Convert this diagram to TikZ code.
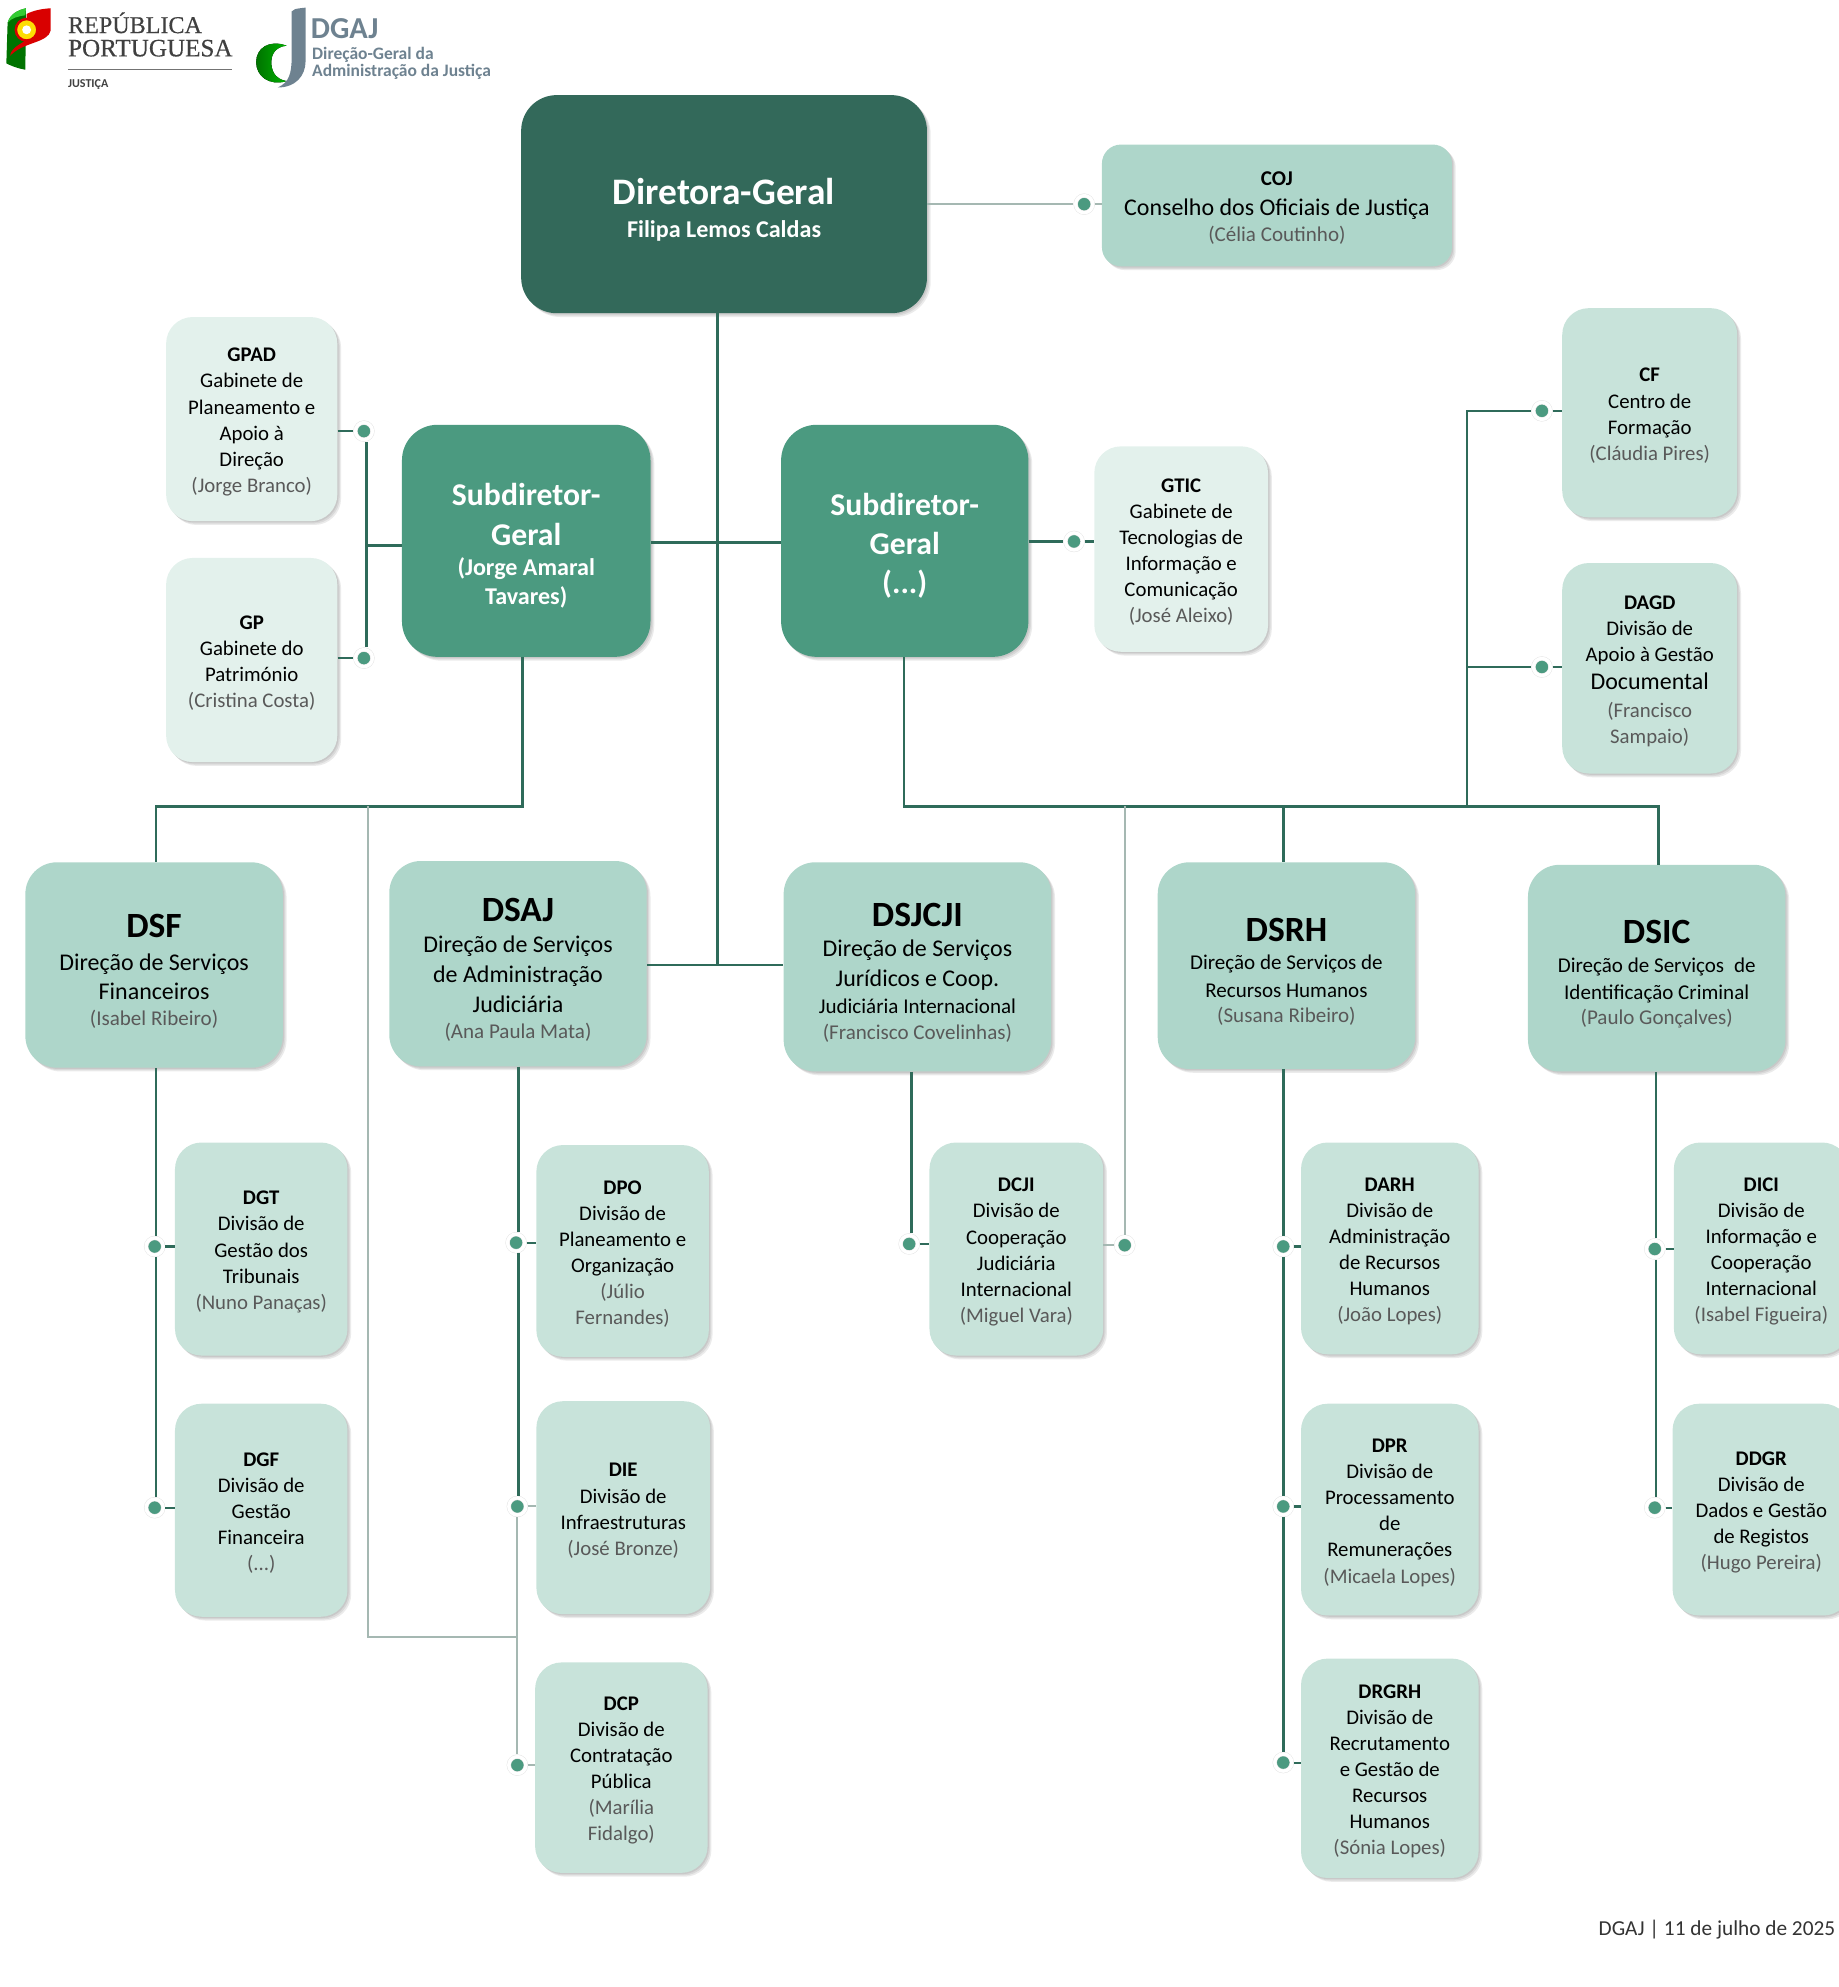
\documentclass[tikz,border=0pt]{standalone}
\usepackage{fontspec}
\setmainfont{Carlito}
\newfontfamily\logofont[FakeBold=0.4]{Liberation Serif}
\usetikzlibrary{shadows}

\definecolor{dirgreen}{HTML}{33695A}
\definecolor{subgreen}{HTML}{4B9A80}
\definecolor{dsgreen}{HTML}{AED6CA}
\definecolor{divgreen}{HTML}{C8E3DA}
\definecolor{cabgreen}{HTML}{E3F1EC}
\definecolor{linegreen}{HTML}{2F6B5A}
\definecolor{linegray}{HTML}{A5B8B2}
\definecolor{namegray}{HTML}{595959}
\definecolor{logogray}{HTML}{6E8290}

\newcommand{\acro}[1]{\rule{0pt}{15.5pt}\textbf{#1}}
\newcommand{\dstitle}[1]{\rule{0pt}{28pt}\fontsize{28}{31}\selectfont\bfseries #1}
\newcommand{\pname}[1]{\textcolor{namegray}{#1}}
\newcommand{\subtxt}{\fontsize{16.6}{20.6}\selectfont}

\tikzset{
    basebox/.style={align=center, inner sep=0pt, text=black,
        drop shadow={shadow xshift=1pt, shadow yshift=-1pt, fill=black, opacity=.08},
        drop shadow={shadow xshift=2pt, shadow yshift=-2pt, fill=black, opacity=.08},
        drop shadow={shadow xshift=3pt, shadow yshift=-3pt, fill=black, opacity=.08}},
    dirbox/.style={basebox, fill=dirgreen, text=white, rounded corners=28pt, font=\fontsize{29.5}{29}\selectfont},
    subbox/.style={basebox, fill=subgreen, text=white, rounded corners=28pt, font=\fontsize{25}{31}\selectfont\bfseries},
    dsbox/.style={basebox, fill=dsgreen, rounded corners=25pt, font=\fontsize{18.9}{23.5}\selectfont},
    divbox/.style={basebox, fill=divgreen, rounded corners=21pt, font=\fontsize{16.4}{20.6}\selectfont},
    cabbox/.style={divbox, fill=cabgreen},
    dotnode/.style={circle, fill=subgreen, draw=black!10, line width=.4pt, double=white, double distance=2.6pt,
        minimum size=13.5pt, inner sep=0pt, outer sep=1.7pt},
    darkline/.style={draw=linegreen, line width=2.1pt},
    thinline/.style={draw=linegreen, line width=1.7pt},
    grayline/.style={draw=linegray, line width=1.5pt},
}

\begin{document}
\begin{tikzpicture}[x=1pt,y=-1pt]

    \useasboundingbox (0,0) rectangle (1450,1567);

    % logos
    \fill[green!45!black] (6,18) .. controls (8,11) and (14,8) .. (20.5,6.5) -- (20,55) .. controls (14,54) and (9,52) .. (5,50) -- cycle;
    \fill[green!60!gray] (6,18) .. controls (8,11) and (14,8) .. (20.5,6.5) -- (20,12) .. controls (14,13) and (9,14) .. (6,18) -- cycle;
    \fill[red!85!black] (21,11) .. controls (27,8) and (33,7) .. (40,6.5) -- (40,24) .. controls (38,34) and (18,33) .. (8,44) .. controls (9,36) and (20,34) .. (21,30) -- cycle;
    \filldraw[fill=yellow!80!orange, draw=red!85!black, line width=2pt] (21,23.5) circle (8.5pt);
    \fill[white] (21,23.5) circle (3.5pt);
    \node[anchor=west, inner sep=0pt, text=black!75] (repTxt) at (53.5,18) {\logofont\fontsize{19}{20}\selectfont REPÚBLICA};
    \node[anchor=west, inner sep=0pt, text=black!75] (porTxt) at (53.5,38) {\logofont\fontsize{19.8}{20}\selectfont PORTUGUESA};
    \draw[black!55, line width=.8pt] (53.5,55) -- (183,55);
    \node[anchor=west, inner sep=0pt, text=black!75] (jusTxt) at (53.5,67) {\fontsize{9.5}{10}\selectfont\bfseries JUSTIÇA};

    \fill[left color=green!45!black, right color=green!70!black] (226,36) .. controls (212,31) and (202,38) .. (202,49) .. controls (202,60) and (212,68) .. (226,64) .. controls (216,62) and (214,55) .. (214,49) .. controls (214,43) and (217,37) .. (226,36) -- cycle;
    \fill[logogray] (230,9) .. controls (232,7) .. (241,6) -- (241,48) .. controls (241,60) and (233,69) .. (219,69) .. controls (228,65) and (230,58) .. (230,45) -- cycle;
    \node[anchor=west, inner sep=0pt, text=logogray] (dgajTxt) at (245,22.5) {\fontsize{24}{25}\selectfont\bfseries DGAJ};
    \node[anchor=west, inner sep=0pt, text=logogray, align=left, font=\fontsize{13.8}{13}\selectfont\bfseries] (dgajSub) at (246,50) {Direção-Geral da\\Administração da Justiça};

    % direction
    \node[dirbox, minimum width=320pt, minimum height=172pt] (Dir) at (571,161)
        {\rule{0pt}{30pt}\bfseries Diretora-Geral\\[-3pt]\fontsize{19}{22}\selectfont\bfseries Filipa Lemos Caldas};
    \node[dsbox, rounded corners=15pt, minimum width=276pt, minimum height=96pt] (COJ) at (1007,162)
        {\subtxt\acro{COJ}\\[-.5pt]Conselho dos Oficiais de Justiça\\[-2.5pt]\subtxt\pname{(Célia Coutinho)}};
    \node[subbox, minimum width=196pt, minimum height=183pt] (Sub1) at (415,426.5)
        {\rule{0pt}{25.5pt}Subdiretor-\\Geral\\[-7pt]\fontsize{19}{23}\selectfont (Jorge Amaral\\[-8pt]\fontsize{19}{23}\selectfont Tavares)};
    \node[subbox, minimum width=195pt, minimum height=183pt] (Sub2) at (713.5,426.5)
        {\rule{0pt}{25.5pt}Subdiretor-\\Geral\\(...)};

    % gabinetes
    \node[cabbox, minimum width=135pt, minimum height=161pt] (GPAD) at (198.5,330.5)
        {\acro{GPAD}\\Gabinete de\\Planeamento e\\Apoio à\\Direção\\\pname{(Jorge Branco)}};
    \node[cabbox, minimum width=135pt, minimum height=161pt] (GP) at (198.5,520.5)
        {\acro{GP}\\Gabinete do\\Património\\\pname{(Cristina Costa)}};
    \node[cabbox, minimum width=137pt, minimum height=162pt] (GTIC) at (931.5,433)
        {\acro{GTIC}\\Gabinete de\\Tecnologias de\\Informação e\\Comunicação\\\pname{(José Aleixo)}};
    \node[divbox, minimum width=138pt, minimum height=165pt] (CF) at (1301,325.5)
        {\acro{CF}\\Centro de\\Formação\\\pname{(Cláudia Pires)}};
    \node[divbox, minimum width=138pt, minimum height=166pt] (DAGD) at (1301,527)
        {\acro{DAGD}\\Divisão de\\Apoio à Gestão\\[1.4pt]\fontsize{18.9}{22}\selectfont Documental\\[1.4pt]\pname{(Francisco}\\\pname{Sampaio)}};

    % direcoes de servicos
    \node[dsbox, minimum width=203pt, minimum height=162pt] (DSF) at (121.5,761)
        {\dstitle{DSF}\\[2.5pt]Direção de Serviços\\Financeiros\\[-3.5pt]\subtxt\pname{(Isabel Ribeiro)}};
    \node[dsbox, minimum width=203pt, minimum height=162pt] (DSAJ) at (408.5,760)
        {\dstitle{DSAJ}\\[1.5pt]Direção de Serviços\\de Administração\\Judiciária\\[-2.5pt]\subtxt\pname{(Ana Paula Mata)}};
    \node[dsbox, minimum width=211pt, minimum height=165pt] (DSJCJI) at (723.5,762.5)
        {\dstitle{DSJCJI}\\[.5pt]Direção de Serviços\\Jurídicos e Coop.\\[-2.5pt]\subtxt Judiciária Internacional\\[-2.5pt]\subtxt\pname{(Francisco Covelinhas)}};
    \node[dsbox, minimum width=203pt, minimum height=163pt] (DSRH) at (1014.5,761.5)
        {\dstitle{DSRH}\\[-1.5pt]\subtxt Direção de Serviços de\\[-1.5pt]\subtxt Recursos Humanos\\[-3.5pt]\subtxt\pname{(Susana Ribeiro)}};
    \node[dsbox, minimum width=203pt, minimum height=163pt] (DSIC) at (1306.5,763.5)
        {\dstitle{DSIC}\\[-.5pt]\subtxt Direção de Serviços\hspace{4pt} de\\[-2.5pt]\subtxt Identificação Criminal\\[-3.5pt]\subtxt\pname{(Paulo Gonçalves)}};

    % divisoes
    \node[divbox, minimum width=136pt, minimum height=168pt] (DGT) at (206,985)
        {\acro{DGT}\\Divisão de\\Gestão dos\\Tribunais\\\pname{(Nuno Panaças)}};
    \node[divbox, minimum width=136pt, minimum height=168pt] (DGF) at (206,1191)
        {\acro{DGF}\\Divisão de\\Gestão\\Financeira\\\pname{(...)}};
    \node[divbox, minimum width=136pt, minimum height=167pt] (DPO) at (491,986.5)
        {\acro{DPO}\\Divisão de\\Planeamento e\\Organização\\\pname{(Júlio}\\\pname{Fernandes)}};
    \node[divbox, minimum width=137pt, minimum height=168pt] (DIE) at (491.5,1189)
        {\acro{DIE}\\Divisão de\\Infraestruturas\\\pname{(José Bronze)}};
    \node[divbox, minimum width=136pt, minimum height=166pt] (DCP) at (490,1394)
        {\acro{DCP}\\Divisão de\\Contratação\\Pública\\\pname{(Marília}\\\pname{Fidalgo)}};
    \node[divbox, minimum width=137pt, minimum height=168pt] (DCJI) at (801.5,985)
        {\acro{DCJI}\\Divisão de\\Cooperação\\Judiciária\\Internacional\\\pname{(Miguel Vara)}};
    \node[divbox, minimum width=140pt, minimum height=167pt] (DARH) at (1096,984.5)
        {\acro{DARH}\\Divisão de\\Administração\\de Recursos\\Humanos\\\pname{(João Lopes)}};
    \node[divbox, minimum width=140pt, minimum height=167pt] (DPR) at (1096,1190.5)
        {\acro{DPR}\\Divisão de\\Processamento\\de\\Remunerações\\\pname{(Micaela Lopes)}};
    \node[divbox, minimum width=140pt, minimum height=173pt] (DRGRH) at (1096,1394.5)
        {\acro{DRGRH}\\Divisão de\\Recrutamento\\e Gestão de\\Recursos\\Humanos\\\pname{(Sónia Lopes)}};
    \node[divbox, minimum width=138pt, minimum height=167pt] (DICI) at (1389,984.5)
        {\acro{DICI}\\Divisão de\\Informação e\\Cooperação\\Internacional\\\pname{(Isabel Figueira)}};
    \node[divbox, minimum width=140pt, minimum height=167pt] (DDGR) at (1389,1190.5)
        {\acro{DDGR}\\Divisão de\\Dados e Gestão\\de Registos\\\pname{(Hugo Pereira)}};

    % footer
    \node[anchor=east, inner sep=0pt, text=black!80] (foot) at (1447.5,1522) {\fontsize{16.8}{20}\selectfont DGAJ | 11 de julho de 2025};

    % dots
    \node[dotnode] (dCOJ) at (855,161) {};
    \node[dotnode] (dGPAD) at (287,340) {};
    \node[dotnode] (dGP) at (287,519) {};
    \node[dotnode] (dGTIC) at (847,427) {};
    \node[dotnode] (dCF) at (1216,324) {};
    \node[dotnode] (dDAGD) at (1216,526) {};
    \node[dotnode] (dDGT) at (122,983) {};
    \node[dotnode] (dDGF) at (122,1189) {};
    \node[dotnode] (dDPO) at (407,980) {};
    \node[dotnode] (dDIE) at (408,1188) {};
    \node[dotnode] (dDCP) at (408,1392) {};
    \node[dotnode] (dDCJIa) at (717,981) {};
    \node[dotnode] (dDCJIb) at (887,982) {};
    \node[dotnode] (dDARH) at (1012,983) {};
    \node[dotnode] (dDPR) at (1012,1188) {};
    \node[dotnode] (dDRGRH) at (1012,1390) {};
    \node[dotnode] (dDICI) at (1305,985) {};
    \node[dotnode] (dDDGR) at (1305,1189) {};

    % junctions
    \coordinate (tM) at (566,428);
    \coordinate (tB) at (566,761);
    \coordinate (sA) at (289,430);
    \coordinate (bL) at (412,636);
    \coordinate (bLa) at (123,636);
    \coordinate (bR) at (713,636);
    \coordinate (bRb) at (1308,636);
    \coordinate (bRa) at (1012,636);
    \coordinate (bRc) at (1157,636);
    \coordinate (gA) at (290,636);
    \coordinate (gB) at (290,1291);
    \coordinate (gC) at (408,1291);
    \coordinate (gD) at (887,636);
    \coordinate (vDSF) at (123,900);
    \coordinate (vDSAJ) at (409,900);
    \coordinate (vDCJI) at (719,900);
    \coordinate (vDSIC) at (1306,900);

    % dark lines
    \draw[darkline] (Dir.south -| tM) -- (tB);
    \draw[darkline] (Sub1.east |- tM) -- (Sub2.west |- tM);
    \draw[darkline] (DSAJ.east |- tB) -- (DSJCJI.west |- tB);
    \draw[darkline] (Sub1.west |- sA) -- (sA);
    \draw[darkline] (sA |- dGPAD.south) -- (sA |- dGP.north);
    \draw[darkline] (GPAD.east |- dGPAD) -- (dGPAD);
    \draw[darkline] (GP.east |- dGP) -- (dGP);
    \draw[darkline] (Sub1.south -| bL) -- (bL) -- (bLa) -- (DSF.north -| bLa);
    \draw[darkline] (Sub2.south -| bR) -- (bR) -- (bRb) -- (DSIC.north -| bRb);
    \draw[darkline] (bRa) -- (DSRH.north -| bRa);
    \draw[darkline] (bRc) -- (bRc |- dCF) -- (dCF);
    \draw[darkline] (bRc |- dDAGD) -- (dDAGD);
    \draw[darkline] (dCF) -- (CF.west |- dCF);
    \draw[darkline] (dDAGD) -- (DAGD.west |- dDAGD);
    \draw[darkline] (Sub2.east |- dGTIC) -- (dGTIC) -- (GTIC.west |- dGTIC);
    \draw[darkline] (DSF.south -| vDSF) -- (vDSF |- dDGT.north);
    \draw[darkline] (vDSF |- dDGT.south) -- (vDSF |- dDGF.north);
    \draw[darkline] (DSAJ.south -| vDSAJ) -- (vDSAJ |- dDPO.north);
    \draw[darkline] (vDSAJ |- dDPO.south) -- (vDSAJ |- dDIE.north);
    \draw[darkline] (DSJCJI.south -| vDCJI) -- (vDCJI |- dDCJIa.north);
    \draw[darkline] (dDCJIa) -- (DCJI.west |- dDCJIa);
    \draw[darkline] (DSRH.south -| dDARH) -- (dDARH) -- (dDPR) -- (dDRGRH);
    \draw[darkline] (DSIC.south -| vDSIC) -- (vDSIC |- dDICI.north);
    \draw[darkline] (vDSIC |- dDICI.south) -- (vDSIC |- dDDGR.north);
    \draw[thinline] (dDGT) -- (DGT.west |- dDGT);
    \draw[thinline] (dDGF) -- (DGF.west |- dDGF);
    \draw[thinline] (dDPO) -- (DPO.west |- dDPO);
    \draw[thinline] (dDARH) -- (DARH.west |- dDARH);
    \draw[thinline] (dDPR) -- (DPR.west |- dDPR);
    \draw[thinline] (dDRGRH) -- (DRGRH.west |- dDRGRH);
    \draw[thinline] (dDICI) -- (DICI.west |- dDICI);
    \draw[thinline] (dDDGR) -- (DDGR.west |- dDDGR);

    % gray lines
    \draw[grayline] (Dir.east |- dCOJ) -- (dCOJ) -- (COJ.west |- dCOJ);
    \draw[grayline] (dDIE) -- (dDCP);
    \draw[grayline] (dDIE) -- (DIE.west |- dDIE);
    \draw[grayline] (dDCP) -- (DCP.west |- dDCP);
    \draw[grayline] (gA) -- (gB) -- (gC);
    \draw[grayline] (gD) -- (dDCJIb);
    \draw[grayline] (DCJI.east |- dDCJIb) -- (dDCJIb);

\end{tikzpicture}
\end{document}
